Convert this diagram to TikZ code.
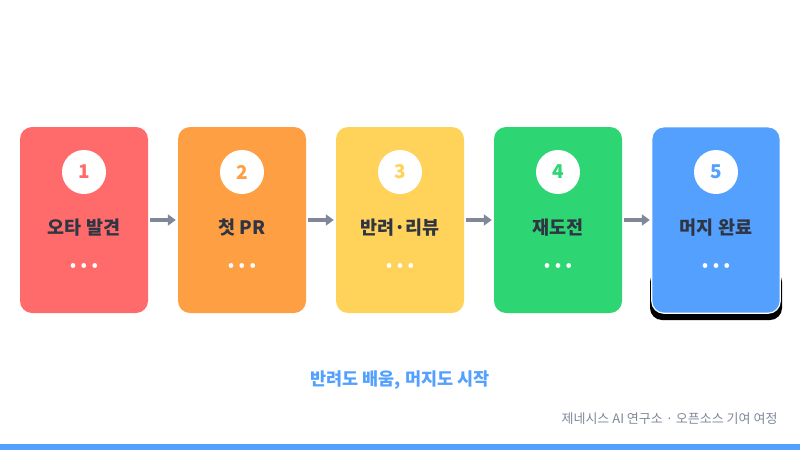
\documentclass[tikz,border=0pt]{standalone}
\usepackage{fontspec}
\setmainfont{Noto Sans CJK KR}
\usetikzlibrary{arrows.meta,positioning}
\definecolor{c1}{HTML}{FF6B6B}
\definecolor{c2}{HTML}{FF9F43}
\definecolor{c3}{HTML}{FFD35A}
\definecolor{c4}{HTML}{2ED573}
\definecolor{c5}{HTML}{54A0FF}
\definecolor{ink}{HTML}{2F3542}
\definecolor{arr}{HTML}{7F8799}
\tikzset{
	stepcard/.style={
		rectangle, minimum width=128pt, minimum height=186pt, rounded corners=12pt, inner sep=0pt
	},
	%
	stepnum/.style={
		circle, fill=white, minimum size=44pt, inner sep=0pt, font=\bfseries\fontsize{19}{19}\selectfont
	},
	%
	steplabel/.style={
		text=ink, font=\bfseries\fontsize{18.5}{18.5}\selectfont
	},
	%
	stepdots/.style={
		text=white, font=\bfseries\fontsize{15}{15}\selectfont
	},
	%
	flow/.style={
		-{Triangle[length=8pt,width=11pt]}, line width=4pt, draw=arr
	}
}

\begin{document}
\begin{tikzpicture}[x=1pt,y=-1pt]
    \useasboundingbox (0,0) rectangle (800,450);
    \fill[c5] (0,444) rectangle (800,450);
    % shadow of the last step
    \fill[black, rounded corners=12pt] (650,270) rectangle (782,320);
    \foreach \i/\t in {1/오타 발견,2/첫 PR,3/반려·리뷰,4/재도전,5/머지 완료}{
        \node(s\i)[stepcard, fill=c\i] at ({84+158*(\i-1)},220) {};
        \node(n\i)[stepnum, text=c\i] at ({84+158*(\i-1)},172) {\i};
        \node(l\i)[steplabel] at ({84+158*(\i-1)},228) {\t};
        \node(d\i)[stepdots] at ({84+158*(\i-1)},267) {•\,\,•\,\,•};
    }
    \draw[white, line width=1.2pt, rounded corners=12pt] (s5.south west) rectangle (s5.north east);
    \foreach \i [evaluate=\i as \j using int(\i+1)] in {1,...,4}{
        \draw[flow] ([xshift=2pt]s\i.east) -- ([xshift=-2pt]s\j.west);
    }
    \node(sub)[text=c5, font=\bfseries\fontsize{17.5}{17.5}\selectfont] at (400,380) {반려도 배움, 머지도 시작};
    \node(foot)[text=arr, font=\fontsize{13}{13}\selectfont, anchor=east] at (781,419) {제네시스 AI 연구소 · 오픈소스 기여 여정};
\end{tikzpicture}
\end{document}
